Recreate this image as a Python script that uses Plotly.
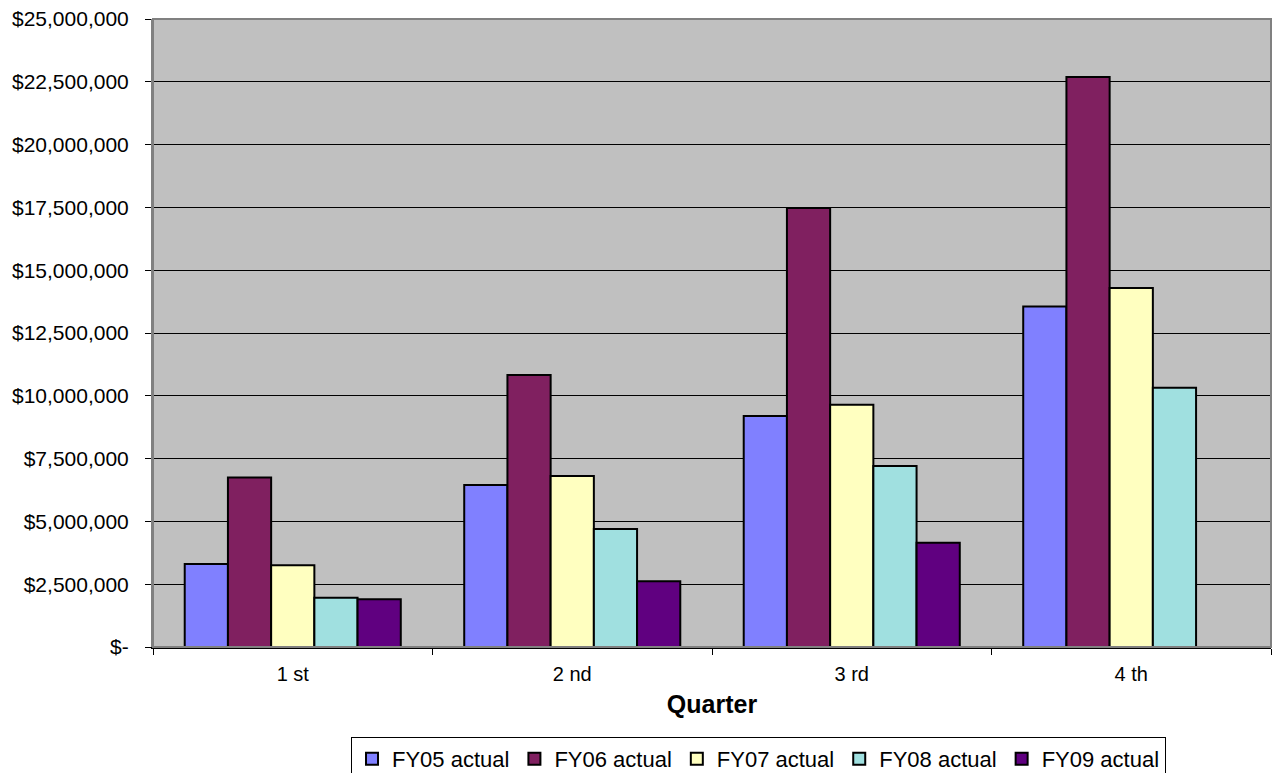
import plotly.graph_objects as go

quarters = ["1 st", "2 nd", "3 rd", "4 th"]
series_names = ["FY05 actual", "FY06 actual", "FY07 actual", "FY08 actual", "FY09 actual"]
fy05 = [3300000, 6450000, 9200000, 13550000]
fy06 = [6750000, 10830000, 17480000, 22690000]
fy07 = [3250000, 6810000, 9640000, 14290000]
fy08 = [1960000, 4700000, 7210000, 10320000]
fy09 = [1900000, 2620000, 4150000, None]
colors = ["#8080FF", "#802060", "#FFFFC0", "#A0E0E0", "#600080"]

tick_vals = [0, 2500000, 5000000, 7500000, 10000000, 12500000, 15000000,
             17500000, 20000000, 22500000, 25000000]
tick_text = ["$-", "$2,500,000", "$5,000,000", "$7,500,000", "$10,000,000",
             "$12,500,000", "$15,000,000", "$17,500,000", "$20,000,000",
             "$22,500,000", "$25,000,000"]

fig = go.Figure()
for name, vals, col in zip(series_names, [fy05, fy06, fy07, fy08, fy09], colors):
    fig.add_trace(go.Bar(
        x=quarters, y=vals, name=name,
        marker=dict(color=col, line=dict(color="black", width=2)),
        hoverinfo="x+y+name",
    ))

fig.update_layout(
    width=1272, height=773,
    margin=dict(l=153, r=1, t=19, b=126),
    paper_bgcolor="white",
    plot_bgcolor="#C0C0C0",
    barmode="group",
    bargap=0.227,
    bargroupgap=0,
    font=dict(family="Liberation Sans, Arial, sans-serif", color="black", size=20),
    showlegend=True,
    legend=dict(
        orientation="h",
        xref="paper", x=0.5416, xanchor="center",
        yref="container", y=0.0466, yanchor="top",
        bgcolor="white",
        bordercolor="black", borderwidth=1,
        font=dict(size=22, family="Liberation Sans, Arial, sans-serif"),
        itemwidth=30,
        tracegroupgap=0,
    ),
    xaxis=dict(
        title=dict(text="<b>Quarter</b>", font=dict(size=25), standoff=11),
        tickson="boundaries",
        ticks="outside", ticklen=6, tickcolor="black",
        showline=True, linecolor="black", linewidth=2,
        tickfont=dict(size=20),
        ticklabelstandoff=8,
        showgrid=False,
    ),
    yaxis=dict(
        range=[0, 25000000],
        tickvals=tick_vals, ticktext=tick_text,
        ticks="outside", ticklen=6, tickcolor="black",
        showline=True, linecolor="#808080", linewidth=2,
        showgrid=True, gridcolor="black", gridwidth=1,
        tickfont=dict(size=21),
        ticklabelstandoff=12,
        zeroline=False,
    ),
)

fig.add_shape(type="rect", xref="paper", yref="paper", x0=0, y0=0, x1=1, y1=1,
              line=dict(color="#808080", width=2), layer="above")

fig.write_html("out.html",
               config={"displayModeBar": False},
               post_script="document.body.style.margin='0';document.body.style.overflow='hidden';")
